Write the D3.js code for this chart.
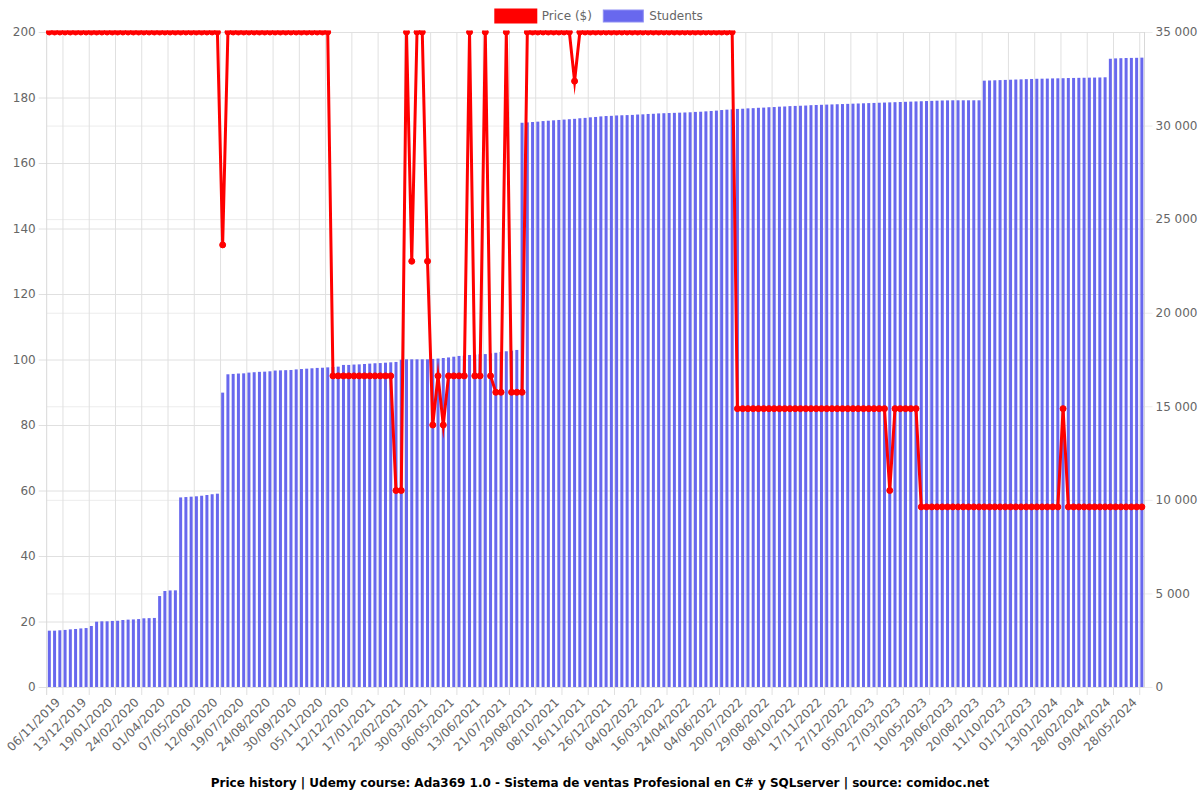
<!DOCTYPE html>
<html><head><meta charset="utf-8">
<script src="https://cdn.jsdelivr.net/npm/d3@7"></script>
<style>body{margin:0;background:#fff}svg{display:block;font-family:"DejaVu Sans",sans-serif}</style>
</head><body>
<svg id="chart" width="1200" height="800"></svg>
<script>
const tickLabels = ["06/11/2019","13/12/2019","19/01/2020","24/02/2020","01/04/2020","07/05/2020","12/06/2020","19/07/2020","24/08/2020","30/09/2020","05/11/2020","12/12/2020","17/01/2021","22/02/2021","30/03/2021","06/05/2021","13/06/2021","21/07/2021","29/08/2021","08/10/2021","16/11/2021","26/12/2021","04/02/2022","16/03/2022","24/04/2022","04/06/2022","20/07/2022","29/08/2022","08/10/2022","17/11/2022","27/12/2022","05/02/2023","27/03/2023","10/05/2023","29/06/2023","20/08/2023","11/10/2023","01/12/2023","13/01/2024","28/02/2024","09/04/2024","28/05/2024"];

const students = [
3010,3010,3030,3050,3080,3100,3130,3150,3260,3490,
3510,3510,3530,3540,3580,3600,3610,3630,3670,3680,
3690,4860,5130,5160,5165,10130,10150,10170,10190,10220,
10260,10300,10330,15730,16710,16730,16750,16760,16800,16820,
16840,16850,16870,16910,16920,16930,16940,16970,16990,17010,
17030,17050,17060,17080,17100,17120,17210,17210,17230,17240,
17260,17280,17300,17310,17330,17350,17370,17490,17510,17510,
17510,17510,17510,17530,17550,17580,17610,17650,17690,17700,
17740,17760,17780,17790,17830,17860,17900,17940,17970,18010,
30150,30170,30190,30210,30240,30260,30280,30300,30320,30340,
30360,30390,30410,30440,30460,30490,30510,30520,30540,30550,
30560,30570,30590,30600,30620,30630,30650,30660,30670,30680,
30690,30700,30710,30730,30740,30760,30780,30800,30830,30850,
30870,30890,30900,30920,30930,30950,30960,30980,30990,31010,
31020,31040,31050,31060,31070,31090,31100,31110,31120,31130,
31140,31150,31160,31170,31180,31190,31200,31210,31220,31230,
31240,31250,31260,31270,31280,31290,31300,31310,31320,31330,
31340,31345,31350,31350,31350,31350,31350,31350,32400,32410,
32420,32430,32440,32450,32460,32470,32480,32490,32500,32505,
32510,32520,32525,32530,32540,32545,32550,32555,32560,32565,
32570,32580,33570,33590,33600,33610,33615,33620,33630];

const prices = [
200,200,200,200,200,200,200,200,200,200,
200,200,200,200,200,200,200,200,200,200,
200,200,200,200,200,200,200,200,200,200,
200,200,200,135,200,200,200,200,200,200,
200,200,200,200,200,200,200,200,200,200,
200,200,200,200,95,95,95,95,95,95,
95,95,95,95,95,95,60,60,200,130,
200,200,130,80,95,80,95,95,95,95,
200,95,95,200,95,90,90,200,90,90,
90,200,200,200,200,200,200,200,200,200,
185,200,200,200,200,200,200,200,200,200,
200,200,200,200,200,200,200,200,200,200,
200,200,200,200,200,200,200,200,200,200,
200,85,85,85,85,85,85,85,85,85,
85,85,85,85,85,85,85,85,85,85,
85,85,85,85,85,85,85,85,85,85,
60,85,85,85,85,85,55,55,55,55,
55,55,55,55,55,55,55,55,55,55,
55,55,55,55,55,55,55,55,55,55,
55,55,55,85,55,55,55,55,55,55,
55,55,55,55,55,55,55,55,55];

const priceTicks = [0,20,40,60,80,100,120,140,160,180,200];
const studentTicks = [0,5000,10000,15000,20000,25000,30000,35000];
const seriesNames = ["Price ($)","Students"];
const seriesColors = ["#ff0000","#6868ee"];
const titleText = "Price history | Udemy course: Ada369 1.0 - Sistema de ventas Profesional en C# y SQLserver | source: comidoc.net";

const m = {l:46.7, r:1144.5, t:32, b:687};
const svg = d3.select("#chart");
const n = students.length;
const idx = d3.range(n);

const x = d3.scaleBand().domain(idx).range([m.l, m.r]).paddingInner(0.43).paddingOuter(0.215);
const edge = d3.scaleLinear().domain([0, n]).range([m.l, m.r]);
const yL = d3.scaleLinear().domain([0, 200]).range([m.b, m.t]);
const yR = d3.scaleLinear().domain([0, 35000]).range([m.b, m.t]);
const cx = i => x(i) + x.bandwidth() / 2;

const loc = d3.formatLocale({decimal: ",", thousands: "\u00a0", grouping: [3], currency: ["", ""]});
const fmtR = loc.format(",d");

// right grid (lighter)
const gR = svg.append("g").attr("transform", `translate(${m.r + 8},0)`)
  .call(d3.axisRight(yR).tickValues(studentTicks).tickSize(-(m.r - m.l) - 8).tickPadding(3).tickFormat(fmtR));
gR.select(".domain").remove();
gR.selectAll("line").attr("stroke", "#ececec");
gR.selectAll("text").attr("fill", "#666").attr("font-size", 12).attr("font-family", "DejaVu Sans");

// left grid
const gL = svg.append("g").attr("transform", `translate(${m.l - 8},0)`)
  .call(d3.axisLeft(yL).tickValues(priceTicks).tickSize(-(m.r - m.l) - 8).tickPadding(3));
gL.select(".domain").remove();
gL.selectAll("line").attr("stroke", "#e0e0e0");
gL.selectAll("text").attr("fill", "#666").attr("font-size", 12).attr("font-family", "DejaVu Sans");

// x grid + labels
const tickIdx = tickLabels.map((_, k) => 3 + 5 * k);
const gX = svg.append("g").attr("transform", `translate(0,${m.b + 8})`)
  .call(d3.axisBottom(edge).tickValues(tickIdx).tickSize(-(m.b - m.t) - 8)
    .tickFormat((d, k) => tickLabels[k]));
gX.select(".domain").remove();
gX.selectAll("line").attr("stroke", "#e0e0e0");
gX.selectAll("text")
  .attr("fill", "#666").attr("font-size", 12).attr("font-family", "DejaVu Sans")
  .attr("x", 0).attr("y", 0).attr("dy", "0.35em")
  .attr("text-anchor", "end")
  .attr("transform", "translate(-5,5) rotate(-45)");

// borders
svg.append("line").attr("x1", m.l).attr("x2", m.l).attr("y1", m.t).attr("y2", m.b + 8).attr("stroke", "#d8d8d8");
svg.append("line").attr("x1", m.r).attr("x2", m.r).attr("y1", m.t).attr("y2", m.b).attr("stroke", "#d8d8d8");

// bars
svg.append("g").selectAll("rect").data(idx).join("rect")
  .attr("x", i => x(i)).attr("width", x.bandwidth())
  .attr("y", i => yR(students[i])).attr("height", i => yR(0) - yR(students[i]))
  .attr("fill", seriesColors[1]);

// line
svg.append("clipPath").attr("id", "clip").append("rect")
  .attr("x", m.l - 1.5).attr("y", m.t - 1.5).attr("width", m.r - m.l + 3).attr("height", m.b - m.t + 3);
const gLine = svg.append("g").attr("clip-path", "url(#clip)");
gLine.append("path").datum(idx)
  .attr("d", d3.line().x(i => cx(i)).y(i => yL(prices[i])))
  .attr("fill", "none").attr("stroke", seriesColors[0]).attr("stroke-width", 3)
  .attr("stroke-linejoin", "miter").attr("stroke-miterlimit", 10);
gLine.selectAll("circle").data(idx).join("circle")
  .attr("cx", i => cx(i)).attr("cy", i => yL(prices[i])).attr("r", 3)
  .attr("fill", seriesColors[0]).attr("stroke", seriesColors[0]).attr("stroke-width", 1);

// legend
const legX = [495.8, 603.3];
const leg = svg.append("g");
seriesNames.forEach((s, k) => {
  leg.append("rect").attr("x", legX[k]).attr("y", 10).attr("width", 40).attr("height", 12)
    .attr("fill", seriesColors[k])
    .attr("stroke", k === 0 ? seriesColors[0] : "#8f8ff3").attr("stroke-width", k === 0 ? 3 : 1);
  leg.append("text").attr("x", legX[k] + 46).attr("y", 16).attr("dy", "0.35em")
    .attr("font-size", 12).attr("fill", "#666").attr("font-family", "DejaVu Sans").text(s);
});

// title
svg.append("text").attr("x", 600).attr("y", 783).attr("dy", "0.35em").attr("text-anchor", "middle")
  .attr("font-size", 12).attr("font-weight", "bold").attr("fill", "#000").attr("font-family", "DejaVu Sans")
  .text(titleText);
</script>
</body></html>
